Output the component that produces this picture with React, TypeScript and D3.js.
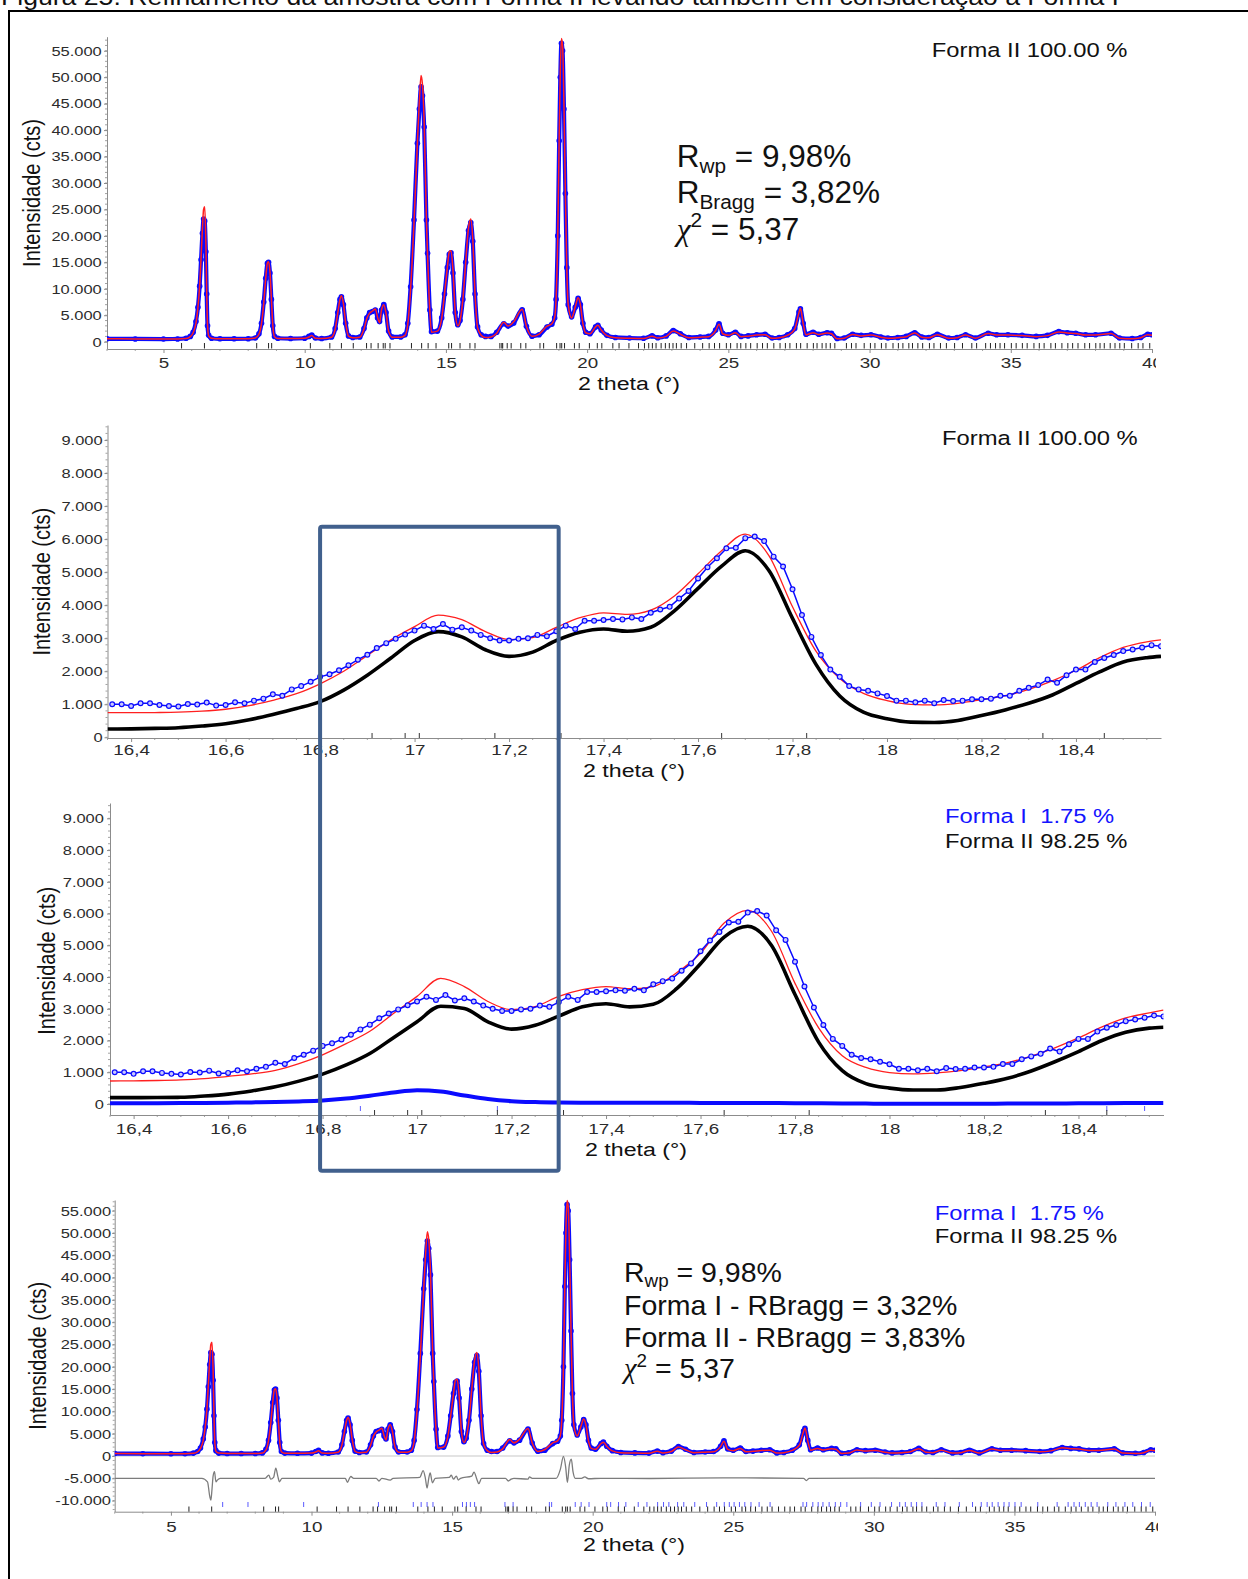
"use client";

import { useEffect, useRef } from "react";
import * as d3 from "d3";

const WIDTH = 1248;
const HEIGHT = 1579;
const FONT = "'Liberation Sans', Arial, Helvetica, sans-serif";
const STRETCH = 1.22; // the figure is a horizontally stretched bitmap

const COLORS = {
  obs: "#0b0bff",
  obsFill: "#c8c8ff",
  calc: "#ff2020",
  formII: "#000000",
  formI: "#0b0bff",
  diff: "#7c7c7c",
  zero: "#c8c8c8",
  axis: "#8c8c8c",
  tick: "#2b2b2b",
  text: "#111111",
  legendBlue: "#1414ff",
  box: "#41608d",
};

// ---------- full pattern (2θ 3..40), panels 1 and 4 ----------
const FULL_THETA = [
  3.0, 4.0, 5.0, 5.5, 5.8, 5.95, 6.05, 6.15, 6.22, 6.28,
  6.33, 6.38, 6.42, 6.46, 6.5, 6.53, 6.56, 6.6, 6.7, 7.0,
  7.5, 8.0, 8.25, 8.38, 8.47, 8.55, 8.62, 8.68, 8.72, 8.77,
  8.82, 8.87, 8.93, 9.05, 9.5, 10.0, 10.15, 10.25, 10.38, 10.6,
  10.95, 11.08, 11.17, 11.25, 11.3, 11.37, 11.45, 11.55, 11.7, 11.95,
  12.1, 12.2, 12.3, 12.4, 12.5, 12.58, 12.65, 12.72, 12.8, 12.88,
  12.97, 13.1, 13.4, 13.55, 13.65, 13.75, 13.87, 13.99, 14.06, 14.12,
  14.17, 14.23, 14.31, 14.35, 14.43, 14.49, 14.7, 14.85, 14.95, 15.05,
  15.12, 15.18, 15.25, 15.33, 15.42, 15.5, 15.6, 15.7, 15.8, 15.88,
  15.95, 16.03, 16.12, 16.25, 16.4, 16.6, 16.8, 17.05, 17.2, 17.4,
  17.7, 17.85, 18.05, 18.3, 18.58, 18.75, 18.85, 18.9, 18.96, 19.01,
  19.05, 19.09, 19.13, 19.18, 19.23, 19.28, 19.33, 19.45, 19.58, 19.68,
  19.76, 19.85, 19.95, 20.1, 20.3, 20.38, 20.5, 20.7, 21.0, 21.5,
  22.0, 22.3, 22.5, 22.8, 23.05, 23.3, 23.6, 24.0, 24.3, 24.55,
  24.67, 24.8, 25.0, 25.25, 25.45, 25.7, 26.0, 26.3, 26.55, 26.8,
  27.1, 27.35, 27.5, 27.55, 27.65, 27.75, 28.0, 28.2, 28.5, 28.65,
  28.85, 29.1, 29.4, 29.7, 30.05, 30.4, 30.65, 31.0, 31.3, 31.6,
  31.85, 32.1, 32.4, 32.8, 33.1, 33.4, 33.75, 34.2, 34.5, 34.9,
  35.4, 35.9, 36.3, 36.7, 37.0, 37.3, 37.65, 38.0, 38.55, 38.85,
  39.3, 39.6, 39.85, 40.0,
];
const FULL_OBS = [
  550, 520, 500, 520, 650, 1000, 1800, 3800, 6500, 10500,
  15500, 20500, 23200, 22800, 17000, 9000, 3000, 1200, 650, 550,
  550, 560, 700, 1500, 3500, 7500, 12000, 14800, 15000, 13000,
  8000, 3000, 1000, 650, 600, 650, 1000, 1250, 700, 600,
  900, 2500, 5500, 8000, 8500, 7000, 3500, 1100, 800, 900,
  2500, 4500, 5500, 5700, 6000, 4500, 3800, 6000, 7000, 5500,
  2000, 900, 900, 1300, 3500, 10400, 23000, 37500, 44000, 48200,
  46500, 40600, 23000, 16700, 6000, 1900, 2000, 4500, 9000, 14000,
  16500, 16800, 13000, 5500, 3200, 4000, 8000, 15000, 21000, 22500,
  19000, 9000, 2800, 1300, 1000, 1000, 1800, 3400, 2950, 3550,
  6050, 2900, 1050, 1300, 2780, 3300, 4500, 8000, 20000, 38000,
  50000, 56400, 55000, 44000, 28000, 14000, 7000, 4700, 6500, 8200,
  7000, 3500, 1800, 1500, 2800, 3100, 2200, 1200, 800, 700,
  650, 1100, 750, 1100, 2100, 1500, 800, 900, 1000, 2200,
  3400, 1600, 1300, 1800, 1000, 1100, 1300, 1400, 700, 800,
  1300, 2500, 5600, 6200, 3500, 1400, 1800, 1400, 1700, 1600,
  600, 700, 1400, 1200, 1300, 900, 700, 800, 1000, 1700,
  900, 800, 1400, 700, 800, 1300, 700, 1600, 1300, 1300,
  1200, 1000, 1200, 1900, 1700, 1600, 1300, 1300, 1600, 700,
  600, 800, 1400, 1300,
];
const FULL_CALC = [
  550, 520, 500, 520, 600, 950, 1700, 3500, 6500, 10500,
  15800, 21500, 25000, 25500, 19000, 9500, 3200, 1100, 650, 550,
  550, 560, 680, 1400, 3400, 7300, 12000, 14900, 15100, 13200,
  8200, 3100, 950, 620, 600, 650, 900, 1150, 650, 600,
  850, 2400, 5400, 8000, 8700, 7200, 3600, 1050, 750, 850,
  2400, 4400, 5400, 5800, 6200, 4600, 3600, 6000, 7000, 5400,
  2000, 850, 850, 1200, 3300, 10000, 22500, 37500, 45500, 50300,
  48500, 41500, 23000, 16500, 5800, 1800, 2000, 4400, 9000, 14000,
  17000, 17200, 13500, 5600, 3000, 4000, 8000, 15000, 21500, 23200,
  19500, 9200, 2700, 1200, 800, 900, 1600, 3700, 2960, 3770,
  6150, 2900, 1010, 1450, 2950, 3400, 4600, 8000, 20000, 38500,
  51000, 57300, 56000, 44500, 28000, 14000, 7000, 4500, 6600, 8300,
  7000, 3400, 1700, 1500, 2800, 3100, 2200, 1150, 750, 650,
  600, 1050, 700, 1000, 2000, 1400, 750, 850, 950, 2100,
  3300, 1500, 1200, 1700, 950, 1050, 1250, 1300, 650, 750,
  1250, 2400, 5500, 6300, 3400, 1300, 1700, 1350, 1650, 1500,
  550, 650, 1350, 1100, 1250, 850, 650, 750, 950, 1650,
  850, 750, 1300, 650, 750, 1250, 650, 1550, 1250, 1250,
  1150, 950, 1150, 1850, 1650, 1550, 1250, 1250, 1550, 650,
  550, 750, 1300, 1200,
];

// difference curve (obs - calc, drawn with a -5000 offset) in panel 4
const DIFF_THETA = [
  3, 6.1, 6.3, 6.38, 6.42, 6.46, 6.5, 6.55, 6.6, 6.65,
  6.75, 8.35, 8.48, 8.55, 8.65, 8.73, 8.8, 8.86, 8.95, 11.2,
  11.28, 11.35, 11.4, 11.5, 12.3, 12.4, 12.5, 12.8, 12.9, 13.85,
  13.97, 14.05, 14.11, 14.17, 14.22, 14.3, 14.4, 14.9, 14.97, 15.05,
  15.15, 15.22, 15.3, 15.7, 15.78, 15.88, 15.95, 16.05, 16.9, 17.0,
  17.1, 17.2, 17.7, 17.75, 17.85, 18.7, 18.85, 18.96, 19.04, 19.1,
  19.17, 19.24, 19.3, 19.38, 19.6, 19.72, 19.85, 20.3, 22.0, 24.7,
  27.5, 27.6, 27.7, 30.0, 35.0, 40.0,
];
const DIFF_VALUES = [
  -5000, -5000, -5800, -9000, -9900, -7500, -4500, -3500, -5800, -5400,
  -5000, -5000, -4300, -5200, -4800, -2700, -4500, -5800, -5000, -5000,
  -5900, -5000, -4600, -5000, -5000, -5600, -5000, -5400, -5000, -4800,
  -3300, -5000, -7200, -5000, -3800, -6000, -5000, -4800, -4300, -5200,
  -4500, -5400, -5000, -4500, -3600, -5200, -6200, -5000, -5000, -5600,
  -5200, -5000, -5200, -4700, -5000, -5000, -3000, -100, -2500, -5900,
  -2000, -700, -3500, -5000, -5000, -4700, -5100, -5000, -5050, -4900,
  -5000, -5500, -5000, -4950, -5050, -5000,
];

// ---------- zoomed region (2θ 16.35..18.58), panels 2 and 3 ----------
const ZOOM_START = 16.36;
const ZOOM_STEP = 0.02;
const ZOOM_OBS = [
  1000, 1000, 950, 1030, 1030, 980, 950, 930, 1010, 990,
  1050, 960, 980, 1060, 1030, 1110, 1170, 1300, 1260, 1450,
  1550, 1680, 1830, 1910, 2030, 2180, 2350, 2500, 2700, 2850,
  2980, 3110, 3230, 3380, 3280, 3430, 3260, 3330, 3230, 3100,
  3000, 2930, 2930, 2980, 3000, 3100, 3060, 3210, 3380, 3280,
  3530, 3530, 3550, 3580, 3570, 3630, 3580, 3770, 3870, 3950,
  4200, 4430, 4810, 5150, 5420, 5720, 5740, 6030, 6080, 5940,
  5470, 5170, 4480, 3700, 3040, 2490, 2050, 1830, 1550, 1450,
  1410, 1330, 1250, 1110, 1110, 1060, 1110, 1030, 1130, 1100,
  1110, 1150, 1150, 1170, 1260, 1260, 1410, 1500, 1580, 1750,
  1650, 1880, 2050, 2050, 2280, 2400, 2490, 2610, 2660, 2720,
  2790, 2760,
];
const ZOOM_FIT_THETA = [
  16.35, 16.4, 16.45, 16.5, 16.55, 16.6, 16.65, 16.7, 16.75, 16.8,
  16.85, 16.9, 16.95, 17.0, 17.05, 17.1, 17.15, 17.2, 17.25, 17.3,
  17.35, 17.4, 17.45, 17.5, 17.55, 17.6, 17.65, 17.7, 17.75, 17.8,
  17.85, 17.9, 17.95, 18.0, 18.05, 18.1, 18.15, 18.2, 18.25, 18.3,
  18.35, 18.4, 18.45, 18.5, 18.55, 18.58,
];
// panel 2: Forma II only
const CALC_ONE_PHASE = [
  745, 745, 750, 760, 790, 850, 960, 1120, 1320, 1620,
  2000, 2480, 2950, 3350, 3700, 3560, 3200, 2960, 3020, 3330,
  3620, 3770, 3720, 3850, 4280, 4950, 5650, 6150, 5500, 3950,
  2600, 1780, 1330, 1110, 1000, 980, 1030, 1140, 1260, 1450,
  1710, 2030, 2410, 2720, 2890, 2950,
];
const FORM_II_ONE_PHASE = [
  250, 255, 270, 290, 340, 410, 530, 690, 870, 1080,
  1430, 1880, 2400, 2930, 3200, 3040, 2650, 2450, 2580, 2930,
  3180, 3280, 3210, 3330, 3830, 4510, 5180, 5650, 5050, 3600,
  2200, 1250, 760, 560, 460, 450, 510, 660, 830, 1030,
  1280, 1630, 1980, 2280, 2410, 2450,
];
// panel 3: Forma I + Forma II
const CALC_TWO_PHASE = [
  725, 730, 740, 760, 800, 870, 950, 1060, 1270, 1550,
  1900, 2290, 2850, 3390, 3960, 3700, 3230, 2970, 3070, 3390,
  3600, 3700, 3630, 3700, 4140, 4750, 5700, 6100, 5450, 3800,
  2400, 1520, 1150, 990, 950, 980, 1050, 1170, 1300, 1510,
  1770, 2080, 2430, 2710, 2870, 2960,
];
const FORM_II_TWO_PHASE = [
  200, 200, 205, 210, 250, 310, 410, 540, 720, 940,
  1230, 1590, 2090, 2590, 3080, 3010, 2590, 2360, 2480, 2770,
  3060, 3160, 3060, 3140, 3640, 4420, 5260, 5600, 5000, 3450,
  1950, 1050, 640, 500, 440, 440, 520, 650, 810, 1040,
  1330, 1650, 2000, 2260, 2390, 2420,
];
const FORM_I_TWO_PHASE = [
  20, 20, 25, 30, 35, 40, 50, 60, 80, 110,
  170, 260, 360, 430, 390, 270, 160, 90, 60, 45,
  40, 40, 40, 38, 36, 35, 35, 35, 32, 25,
  20, 15, 12, 10, 10, 10, 10, 10, 12, 14,
  16, 20, 24, 28, 30, 30,
];

// Bragg reflection positions
const REFL_FORM_II = [
  5.64, 6.45, 8.3, 8.72, 8.83, 10.2, 10.89, 11.3, 11.72, 12.19,
  12.35, 12.6, 12.78, 12.85, 13.02, 13.78, 14.14, 14.37, 14.65, 15.1,
  15.2, 15.5, 15.85, 16.03, 16.91, 16.98, 17.01, 17.17, 17.31, 17.65,
  17.83, 18.33, 18.46, 18.92, 19.04, 19.1, 19.2, 19.55, 19.72, 20.08,
  20.36, 20.52, 20.91, 21.13, 21.48, 21.82, 22.03, 22.18, 22.31, 22.44,
  22.62, 22.77, 22.91, 23.04, 23.16, 23.33, 23.52, 23.81, 24.09, 24.32,
  24.51, 24.69, 24.93, 25.08, 25.31, 25.44, 25.62, 25.79, 26.02, 26.21,
  26.38, 26.61, 26.83, 27.02, 27.18, 27.41, 27.56, 27.79, 28.01, 28.14,
  28.32, 28.46, 28.61, 28.77, 29.18, 29.36, 29.52, 29.81, 30.03, 30.19,
  30.42, 30.58, 30.83, 31.02, 31.18, 31.39, 31.52, 31.71, 31.88, 32.12,
  32.28, 32.51, 32.72, 33.01, 33.29, 33.62, 33.79, 34.11, 34.28, 34.46,
  34.62, 34.78, 35.02, 35.19, 35.41, 35.58, 35.82, 36.01, 36.18, 36.42,
  36.58, 36.81, 37.02, 37.19, 37.38, 37.62, 37.79, 38.01, 38.16, 38.31,
  38.52, 38.69, 38.86, 39.02, 39.28, 39.51, 39.68, 39.92,
];
const REFL_FORM_I = [
  6.84, 7.74, 9.72, 12.38, 13.62, 13.9, 14.11, 14.32, 15.37, 15.51,
  15.65, 15.8, 16.88, 17.17, 18.46, 18.54, 19.38, 19.59, 19.87, 20.5,
  20.64, 20.92, 21.18, 21.62, 21.93, 22.31, 22.52, 22.71, 23.02, 23.24,
  23.63, 24.05, 24.41, 24.68, 24.86, 25.03, 25.22, 25.41, 25.63, 25.92,
  26.31, 27.48, 27.61, 27.83, 28.02, 28.19, 28.41, 28.63, 28.82, 29.04,
  29.53, 29.91, 30.22, 30.63, 30.92, 31.12, 31.33, 31.52, 31.71, 32.22,
  32.53, 33.04, 33.51, 33.82, 34.03, 34.21, 34.42, 34.63, 34.81, 35.02,
  35.24, 35.83, 36.52, 36.91, 37.12, 37.31, 37.52, 37.73, 37.94, 38.32,
  38.61, 38.93, 39.21, 39.52, 39.83,
];

// tick labels
const FULL_X_TICKS = [5, 10, 15, 20, 25, 30, 35, 40];
const ZOOM_X_TICKS = [16.4, 16.6, 16.8, 17, 17.2, 17.4, 17.6, 17.8, 18, 18.2, 18.4];
const FULL_Y_TICKS = [0, 5000, 10000, 15000, 20000, 25000, 30000, 35000, 40000, 45000, 50000, 55000];
const DIFF_Y_TICKS = [-10000, -5000, ...FULL_Y_TICKS];
const ZOOM_Y_TICKS = [0, 1000, 2000, 3000, 4000, 5000, 6000, 7000, 8000, 9000];

const CAPTION = "Figura 25: Refinamento da amostra com Forma II levando também em consideração a Forma I";

const ptLocale = d3.formatLocale({
  decimal: ",",
  thousands: ".",
  grouping: [3],
  currency: ["", ""],
  minus: "-",
});
const fmtCounts = ptLocale.format(",d");
const fmtTheta = ptLocale.format("~g");

function addText(parent: any, x: number, y: number, txt: string, size: number, color: string, stretch = 1, anchor = "start") {
  return parent.append("text")
    .attr("transform", `translate(${x},${y}) scale(${stretch},1)`)
    .attr("font-family", FONT)
    .attr("font-size", size)
    .attr("fill", color)
    .attr("text-anchor", anchor)
    .style("white-space", "pre")
    .text(txt);
}

// text with sub/superscripts: parts are [text, "n" | "sub" | "sup" | "greek"]
function addStat(parent: any, x: number, y: number, size: number, parts: [string, string][]) {
  const t = parent.append("text")
    .attr("x", x).attr("y", y)
    .attr("font-family", FONT)
    .attr("font-size", size)
    .attr("fill", COLORS.text)
    .style("white-space", "pre");
  let shift = 0;
  parts.forEach(([s, kind]) => {
    const target = kind === "sub" ? size * 0.2 : kind === "sup" ? -size * 0.4 : 0;
    const ts = t.append("tspan")
      .attr("dy", target - shift)
      .attr("font-size", kind === "sub" || kind === "sup" ? size * 0.66 : size)
      .text(s);
    if (kind === "greek") ts.attr("font-family", "'Liberation Serif', 'DejaVu Serif', serif").attr("font-style", "italic");
    shift = target;
  });
  return t;
}

function drawFrame(root: any, defs: any, f: any) {
  const x = d3.scaleLinear().domain(f.xDomain).range([f.left, f.right]);
  const y = d3.scaleLinear().domain(f.yDomain).range([f.bottom, f.top]);

  defs.append("clipPath").attr("id", `plot-${f.id}`)
    .append("rect")
    .attr("x", f.left).attr("y", f.top - 12)
    .attr("width", f.right - f.left).attr("height", f.bottom - f.top + 12);
  defs.append("clipPath").attr("id", `labels-${f.id}`)
    .append("rect")
    .attr("x", 0).attr("y", 0)
    .attr("width", f.clipRight).attr("height", HEIGHT);

  const g = root.append("g").attr("class", `panel-${f.id}`);

  // minor ticks
  g.append("g").attr("class", "y-minor")
    .selectAll("line").data(f.yMinor).join("line")
    .attr("x1", f.left - 2).attr("x2", f.left)
    .attr("y1", (d: number) => y(d)).attr("y2", (d: number) => y(d))
    .attr("stroke", COLORS.axis).attr("stroke-width", 0.8);
  g.append("g").attr("class", "x-minor")
    .selectAll("line").data(f.xMinor).join("line")
    .attr("x1", (d: number) => x(d)).attr("x2", (d: number) => x(d))
    .attr("y1", f.bottom).attr("y2", f.bottom + 2)
    .attr("stroke", COLORS.axis).attr("stroke-width", 0.8);

  // Y axis
  const yAxis = g.append("g")
    .attr("class", "y-axis")
    .attr("transform", `translate(${f.left},0)`)
    .call(
      d3.axisLeft(y)
        .tickValues(f.yTicks)
        .tickFormat((d: any) => fmtCounts(+d))
        .tickSize(f.yTickSize)
        .tickSizeOuter(0)
        .tickPadding(f.yTickPad)
    );
  yAxis.select(".domain").attr("stroke", COLORS.axis);
  yAxis.selectAll(".tick line").attr("stroke", COLORS.axis);
  yAxis.selectAll("text")
    .attr("font-family", FONT)
    .attr("font-size", 13.5)
    .attr("fill", COLORS.tick)
    .attr("transform", `scale(${STRETCH},1)`);

  // X axis
  const xWrap = g.append("g").attr("clip-path", `url(#labels-${f.id})`);
  const xAxis = xWrap.append("g")
    .attr("class", "x-axis")
    .attr("transform", `translate(0,${f.bottom})`)
    .call(
      d3.axisBottom(x)
        .tickValues(f.xTicks)
        .tickFormat((d: any) => fmtTheta(+d))
        .tickSize(4)
        .tickSizeOuter(0)
    );
  xAxis.select(".domain").attr("stroke", COLORS.axis);
  xAxis.selectAll(".tick line").attr("stroke", COLORS.axis);
  xAxis.selectAll("text")
    .attr("y", f.xLabelDy)
    .attr("dy", 0)
    .attr("font-family", FONT)
    .attr("font-size", 15.4)
    .attr("fill", COLORS.tick)
    .attr("transform", `scale(${STRETCH},1)`);

  // titles
  addText(g, f.xTitle[0], f.xTitle[1], "2 theta (°)", 19, COLORS.text, STRETCH, "middle");
  g.append("text")
    .attr("transform", `translate(${f.yTitle[0]},${f.yTitle[1]}) scale(${STRETCH},1) rotate(-90)`)
    .attr("font-family", FONT)
    .attr("font-size", 20)
    .attr("fill", COLORS.text)
    .attr("text-anchor", "middle")
    .text("Intensidade (cts)");

  const plot = g.append("g").attr("clip-path", `url(#plot-${f.id})`);
  return { x, y, g, plot };
}

function lineFor(x: any, y: any, xs: number[]) {
  return d3.line<number>()
    .x((_, i) => x(xs[i]))
    .y((d) => y(d))
    .curve(d3.curveMonotoneX);
}

function drawReflections(g: any, x: any, positions: number[], domain: number[], y1: number, y2: number, color: string) {
  g.append("g")
    .selectAll("line")
    .data(positions.filter((p) => p >= domain[0] && p <= domain[1]))
    .join("line")
    .attr("x1", (d: number) => x(d)).attr("x2", (d: number) => x(d))
    .attr("y1", y1).attr("y2", y2)
    .attr("stroke", color)
    .attr("stroke-width", 1);
}

function drawFullPattern(p: any) {
  p.plot.append("path")
    .attr("d", lineFor(p.x, p.y, FULL_THETA)(FULL_OBS))
    .attr("fill", "none").attr("stroke", COLORS.obs).attr("stroke-width", 4.2)
    .attr("stroke-linejoin", "round");
  p.plot.append("g").selectAll("circle").data(FULL_OBS).join("circle")
    .attr("cx", (_: number, i: number) => p.x(FULL_THETA[i]))
    .attr("cy", (d: number) => p.y(d))
    .attr("r", 2.8)
    .attr("fill", COLORS.obs);
  p.plot.append("path")
    .attr("d", lineFor(p.x, p.y, FULL_THETA)(FULL_CALC))
    .attr("fill", "none").attr("stroke", COLORS.calc).attr("stroke-width", 1.5);
}

function drawZoomObs(p: any, zoomTheta: number[]) {
  p.plot.append("path")
    .attr("d", d3.line<number>().x((_, i) => p.x(zoomTheta[i])).y((d) => p.y(d))(ZOOM_OBS))
    .attr("fill", "none").attr("stroke", COLORS.obs).attr("stroke-width", 1.5);
  p.plot.append("g").selectAll("circle").data(ZOOM_OBS).join("circle")
    .attr("cx", (_: number, i: number) => p.x(zoomTheta[i]))
    .attr("cy", (d: number) => p.y(d))
    .attr("r", 2.4)
    .attr("fill", COLORS.obsFill)
    .attr("stroke", COLORS.obs).attr("stroke-width", 1.2);
}

export default function App() {
  const svgRef = useRef<SVGSVGElement>(null);

  useEffect(() => {
    if (!svgRef.current) return;
    const svg = d3.select(svgRef.current);
    svg.selectAll("*").remove();
    const defs = svg.append("defs");
    const root = svg.append("g").attr("class", "chart-root");

    const zoomTheta = ZOOM_OBS.map((_, i) => ZOOM_START + i * ZOOM_STEP);
    const fullXMinor = d3.range(3, 41).filter((v) => v % 5 !== 0);
    const zoomXMinor = d3.range(16.35, 18.58, 0.05).filter((v) => Math.abs(v * 5 - Math.round(v * 5)) > 0.01);

    // ---------- caption and outer frame ----------
    root.append("text")
      .attr("x", 1).attr("y", 5)
      .attr("font-family", FONT).attr("font-size", 23)
      .attr("fill", COLORS.text)
      .attr("textLength", 1118)
      .attr("lengthAdjust", "spacingAndGlyphs")
      .text(CAPTION);
    root.append("path")
      .attr("d", `M9,${HEIGHT} V11 H${WIDTH}`)
      .attr("fill", "none")
      .attr("stroke", "#000")
      .attr("stroke-width", 2);

    // ============ PANEL 1: full pattern, Forma II only ============
    const p1 = drawFrame(root, defs, {
      id: "p1", left: 107, right: 1152, top: 36.7, bottom: 349,
      xDomain: [3, 40], yDomain: [-1380, 57656],
      xTicks: FULL_X_TICKS, xMinor: fullXMinor, yTicks: FULL_Y_TICKS, yMinor: d3.range(0, 57001, 1000),
      yTickSize: 3, yTickPad: 1.3, xLabelDy: 19.3, clipRight: 1156,
      yTitle: [40, 193], xTitle: [629, 390],
    });
    drawReflections(p1.g, p1.x, REFL_FORM_II, [3, 40], 343, 348.5, "#222");
    drawFullPattern(p1);
    addText(root, 931.7, 56.7, "Forma II 100.00 %", 19.5, COLORS.text, STRETCH);
    addStat(root, 676.7, 166.7, 31.5, [["R", "n"], ["wp", "sub"], [" = 9,98%", "n"]]);
    addStat(root, 676.7, 203, 31.5, [["R", "n"], ["Bragg", "sub"], [" = 3,82%", "n"]]);
    addStat(root, 676.7, 240, 31.5, [["χ", "greek"], ["2", "sup"], [" = 5,37", "n"]]);

    // ============ PANEL 2: zoom, Forma II only ============
    const p2 = drawFrame(root, defs, {
      id: "p2", left: 107.5, right: 1161, top: 425, bottom: 738,
      xDomain: [16.35, 18.58], yDomain: [-21, 9455],
      xTicks: ZOOM_X_TICKS, xMinor: zoomXMinor, yTicks: ZOOM_Y_TICKS, yMinor: d3.range(0, 9401, 200),
      yTickSize: 3, yTickPad: 1, xLabelDy: 17.5, clipRight: WIDTH,
      yTitle: [49.5, 581.7], xTitle: [634, 776.5],
    });
    drawReflections(p2.g, p2.x, REFL_FORM_II, [16.35, 18.58], 733, 738, "#333");
    p2.plot.append("path")
      .attr("d", lineFor(p2.x, p2.y, ZOOM_FIT_THETA)(FORM_II_ONE_PHASE))
      .attr("fill", "none").attr("stroke", COLORS.formII).attr("stroke-width", 3.6);
    p2.plot.append("path")
      .attr("d", lineFor(p2.x, p2.y, ZOOM_FIT_THETA)(CALC_ONE_PHASE))
      .attr("fill", "none").attr("stroke", COLORS.calc).attr("stroke-width", 1.3);
    drawZoomObs(p2, zoomTheta);
    addText(root, 942, 445, "Forma II 100.00 %", 19.5, COLORS.text, STRETCH);

    // ============ PANEL 3: zoom, Forma I + Forma II ============
    const p3 = drawFrame(root, defs, {
      id: "p3", left: 110, right: 1163.5, top: 803, bottom: 1115,
      xDomain: [16.35, 18.58], yDomain: [-347, 9483],
      xTicks: ZOOM_X_TICKS, xMinor: zoomXMinor, yTicks: ZOOM_Y_TICKS, yMinor: d3.range(0, 9401, 200),
      yTickSize: 3, yTickPad: 2, xLabelDy: 19.5, clipRight: WIDTH,
      yTitle: [55, 960.8], xTitle: [636, 1156],
    });
    drawReflections(p3.g, p3.x, REFL_FORM_I, [16.35, 18.58], 1106, 1111, "#5a5aff");
    drawReflections(p3.g, p3.x, REFL_FORM_II, [16.35, 18.58], 1110, 1115, "#333");
    p3.plot.append("path")
      .attr("d", lineFor(p3.x, p3.y, ZOOM_FIT_THETA)(FORM_I_TWO_PHASE))
      .attr("fill", "none").attr("stroke", COLORS.formI).attr("stroke-width", 4);
    p3.plot.append("path")
      .attr("d", lineFor(p3.x, p3.y, ZOOM_FIT_THETA)(FORM_II_TWO_PHASE))
      .attr("fill", "none").attr("stroke", COLORS.formII).attr("stroke-width", 3.6);
    p3.plot.append("path")
      .attr("d", lineFor(p3.x, p3.y, ZOOM_FIT_THETA)(CALC_TWO_PHASE))
      .attr("fill", "none").attr("stroke", COLORS.calc).attr("stroke-width", 1.3);
    drawZoomObs(p3, zoomTheta);
    addText(root, 945, 823, "Forma I  1.75 %", 19.5, COLORS.legendBlue, STRETCH);
    addText(root, 945, 848, "Forma II 98.25 %", 19.5, COLORS.text, STRETCH);

    // ============ PANEL 4: full pattern, two phases + difference ============
    const p4 = drawFrame(root, defs, {
      id: "p4", left: 114.7, right: 1155, top: 1200, bottom: 1511.7,
      xDomain: [3, 40], yDomain: [-12489, 57399],
      xTicks: FULL_X_TICKS, xMinor: fullXMinor, yTicks: DIFF_Y_TICKS, yMinor: d3.range(-12000, 57001, 1000),
      yTickSize: 2.5, yTickPad: 0.5, xLabelDy: 20, clipRight: 1158,
      yTitle: [45.5, 1355.8], xTitle: [634, 1551],
    });
    p4.plot.append("line")
      .attr("x1", p4.x(3)).attr("x2", p4.x(40))
      .attr("y1", p4.y(0)).attr("y2", p4.y(0))
      .attr("stroke", COLORS.zero).attr("stroke-width", 1.2);
    drawReflections(p4.g, p4.x, REFL_FORM_I, [3, 40], 1502, 1507, "#5a5aff");
    drawReflections(p4.g, p4.x, REFL_FORM_II, [3, 40], 1506.5, 1511.7, "#222");
    p4.plot.append("path")
      .attr("d", lineFor(p4.x, p4.y, DIFF_THETA)(DIFF_VALUES))
      .attr("fill", "none").attr("stroke", COLORS.diff).attr("stroke-width", 1.3);
    drawFullPattern(p4);
    addText(root, 934.7, 1220, "Forma I  1.75 %", 19.5, COLORS.legendBlue, STRETCH);
    addText(root, 934.7, 1243, "Forma II 98.25 %", 19.5, COLORS.text, STRETCH);
    addStat(root, 624, 1281.7, 28.5, [["R", "n"], ["wp", "sub"], [" = 9,98%", "n"]]);
    addStat(root, 624, 1315, 28.5, [["Forma I - RBragg = 3,32%", "n"]]);
    addStat(root, 624, 1346.7, 28.5, [["Forma II - RBragg = 3,83%", "n"]]);
    addStat(root, 624, 1378, 28.5, [["χ", "greek"], ["2", "sup"], [" = 5,37", "n"]]);

    // ============ highlight box over the 17° region ============
    root.append("rect")
      .attr("x", p2.x(16.8)).attr("y", 526.7)
      .attr("width", p2.x(17.305) - p2.x(16.8))
      .attr("height", 1170.7 - 526.7)
      .attr("rx", 2)
      .attr("fill", "none")
      .attr("stroke", COLORS.box)
      .attr("stroke-width", 4);
  }, []);

  return (
    <svg
      ref={svgRef}
      width={WIDTH}
      height={HEIGHT}
      style={{ position: "absolute", left: 0, top: 0, background: "#fff", display: "block" }}
    />
  );
}
